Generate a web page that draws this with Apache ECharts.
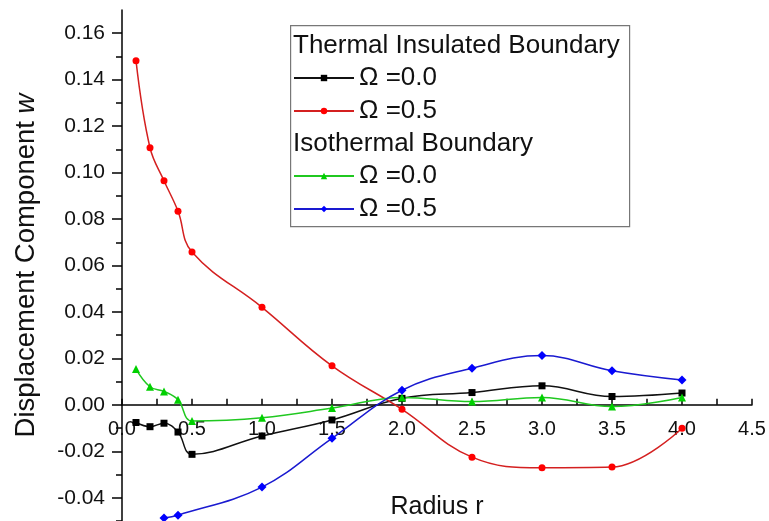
<!DOCTYPE html>
<html>
<head>
<meta charset="utf-8">
<script src="https://cdn.jsdelivr.net/npm/echarts@6/dist/echarts.min.js"></script>
<style>html,body{margin:0;padding:0;background:#fff}#c{width:769px;height:521px}</style>
</head>
<body>
<div id="c"></div>
<script>
// Data
var radius = [0.1, 0.2, 0.3, 0.4, 0.5, 1.0, 1.5, 2.0, 2.5, 3.0, 3.5, 4.0];
var insulated00 = [-0.0076, -0.0094, -0.0079, -0.0117, -0.0213, -0.0134, -0.0065, 0.0028, 0.0053, 0.0082, 0.0036, 0.0051];
var insulated05 = [0.1482, 0.1107, 0.0965, 0.0834, 0.0658, 0.0420, 0.0168, -0.0019, -0.0225, -0.0271, -0.0268, -0.0101];
var isothermal00 = [0.0154, 0.0078, 0.0058, 0.0022, -0.0069, -0.0055, -0.0014, 0.0032, 0.0014, 0.0032, -0.0007, 0.0032];
var isoRadius = [0.3, 0.4, 1.0, 1.5, 2.0, 2.5, 3.0, 3.5, 4.0];
var isothermal05 = [-0.0487, -0.0475, -0.0354, -0.0144, 0.0063, 0.0158, 0.0212, 0.0147, 0.0107];
var yMajorTicks = [-0.04, -0.02, 0.00, 0.02, 0.04, 0.06, 0.08, 0.10, 0.12, 0.14, 0.16];
var yMinorTicks = [-0.05, -0.03, -0.01, 0.01, 0.03, 0.05, 0.07, 0.09, 0.11, 0.13, 0.15];
var legendLabels = {TI0: 'Ω =0.0', TI5: 'Ω =0.5', IS0: 'Ω =0.0', IS5: 'Ω =0.5'};

function pairs(xs, ys) { return xs.map(function (x, i) { return [x, ys[i]]; }); }

var FONT = "Arial, 'Liberation Sans', sans-serif";
var Y_MIN = -0.05, Y_MAX = 0.17;
var GRID = {left: 122, right: 17, top: 10, bottom: 0};
var gridH = 521 - GRID.top - GRID.bottom;
// shift the x axis (line, ticks, labels) from the grid bottom up to the y = 0 level
var zeroOffset = -gridH * (0 - Y_MIN) / (Y_MAX - Y_MIN);

var chart = echarts.init(document.getElementById('c'));
function mkSeries(name, xs, ys, symbol, mColor, lColor) {
  return {
    name: name, type: 'line', smooth: 0.4, data: pairs(xs, ys),
    symbol: symbol, symbolSize: symbol === 'diamond' ? 9 : (symbol === 'triangle' ? 8 : 7),
    showAllSymbol: true,
    itemStyle: {color: mColor},
    lineStyle: {color: lColor, width: 1.5},
    emphasis: {disabled: true},
    yAxisIndex: 0
  };
}
chart.setOption({
  animation: false,
  textStyle: {fontFamily: FONT},
  grid: {left: GRID.left, right: GRID.right, top: GRID.top, bottom: GRID.bottom, containLabel: false, outerBoundsMode: 'none'},
  xAxis: {
    type: 'value', min: 0, max: 4.5, interval: 0.5, position: 'bottom', offset: zeroOffset,
    name: 'Radius r', nameLocation: 'middle', nameGap: 90,
    nameTextStyle: {fontSize: 25, color: '#111', fontFamily: FONT},
    axisLine: {onZero: false, lineStyle: {color: '#000', width: 1.5}},
    axisTick: {inside: true, length: 6, lineStyle: {color: '#000', width: 1.5}},
    minorTick: {show: true, splitNumber: 2, length: 6, lineStyle: {color: '#000', width: 1.5}},
    axisLabel: {fontSize: 20, color: '#111', margin: 15, fontFamily: FONT,
      formatter: function (v) { return v.toFixed(1); }},
    splitLine: {show: false}
  },
  yAxis: [{
    type: 'value', min: Y_MIN, max: Y_MAX,
    name: 'Displacement Component {i|w}', nameLocation: 'middle', nameGap: 82,
    nameTextStyle: {fontSize: 27.5, color: '#111', fontFamily: FONT,
      rich: {i: {fontSize: 27.5, fontStyle: 'italic', color: '#111', fontFamily: FONT}}},
    axisLine: {show: true, onZero: false, lineStyle: {color: '#000', width: 1.5}},
    axisTick: {show: true, inside: false, length: 10, customValues: yMajorTicks, lineStyle: {color: '#000', width: 1.5}},
    axisLabel: {fontSize: 21, color: '#111', margin: 17, customValues: yMajorTicks, fontFamily: FONT,
      formatter: function (v) { return v.toFixed(2); }},
    splitLine: {show: false}
  }, {
    type: 'value', min: Y_MIN, max: Y_MAX, position: 'left', offset: 0,
    axisLine: {show: false},
    axisTick: {show: true, inside: false, length: 6, customValues: yMinorTicks, lineStyle: {color: '#000', width: 1.5}},
    axisLabel: {show: false},
    splitLine: {show: false}
  }],
  legend: [{
    data: ['TI0', 'TI5'], orient: 'vertical', left: 293, top: 65, padding: 0,
    itemWidth: 60, itemHeight: 8, itemGap: 7, selectedMode: false,
    formatter: function (n) { return legendLabels[n]; },
    textStyle: {fontSize: 26, color: '#111', fontFamily: FONT}
  }, {
    data: ['IS0', 'IS5'], orient: 'vertical', left: 293, top: 163, padding: 0,
    itemWidth: 60, itemHeight: 8, itemGap: 7, selectedMode: false,
    formatter: function (n) { return legendLabels[n]; },
    textStyle: {fontSize: 26, color: '#111', fontFamily: FONT}
  }],
  graphic: [
    {type: 'rect', left: 290, top: 25, shape: {width: 339, height: 201},
      style: {fill: 'rgba(0,0,0,0)', stroke: '#777', lineWidth: 1.2}, z: 10},
    {type: 'text', left: 293, top: 33, style: {text: 'Thermal Insulated Boundary', fontSize: 26, fill: '#111', fontFamily: FONT}, z: 10},
    {type: 'text', left: 293, top: 131, style: {text: 'Isothermal Boundary', fontSize: 26, fill: '#111', fontFamily: FONT}, z: 10}
  ],
  series: [
    mkSeries('TI0', radius, insulated00, 'rect', '#000', '#111'),
    mkSeries('TI5', radius, insulated05, 'circle', '#ff0000', '#d42020'),
    mkSeries('IS0', radius, isothermal00, 'triangle', '#00d000', '#20c820'),
    mkSeries('IS5', isoRadius, isothermal05, 'diamond', '#0000ff', '#1a1ad0')
  ]
});
</script>
</body>
</html>
